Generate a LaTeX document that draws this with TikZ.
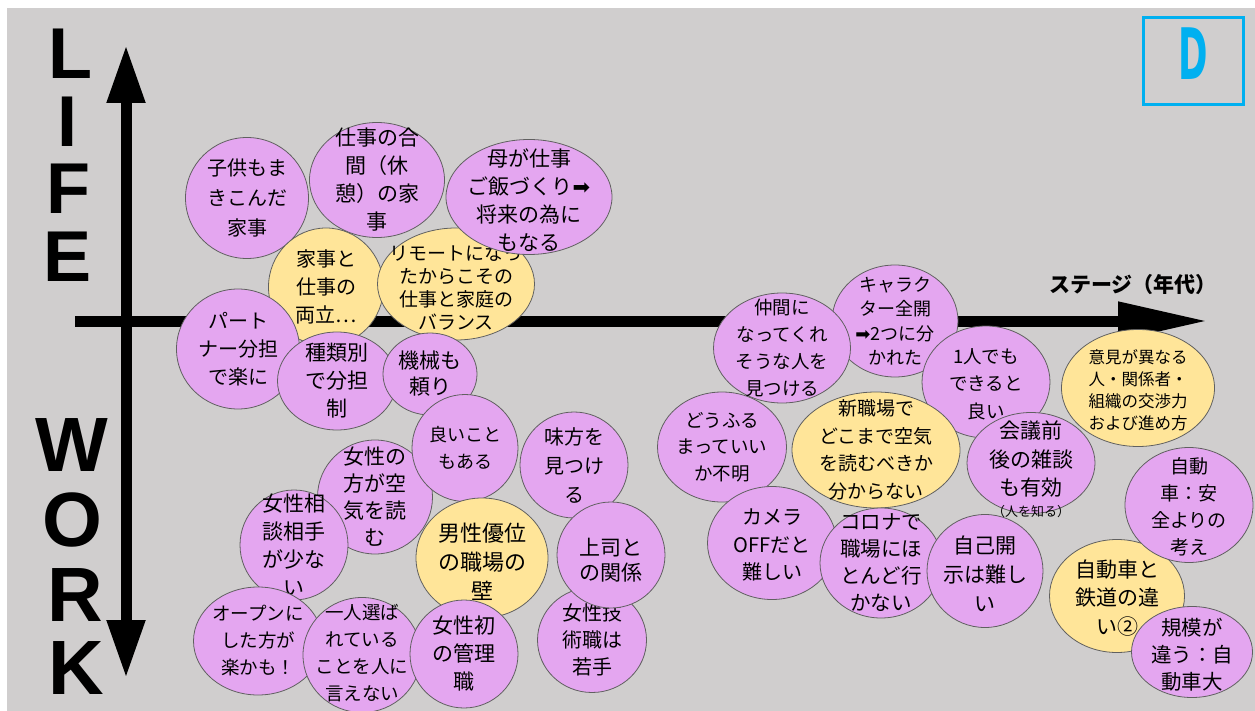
\documentclass[tikz,border=0pt]{standalone}
\usepackage{xcolor}
\usepackage{fontspec}
\setmainfont{Noto Sans CJK JP}
\newfontfamily\arrowfont{DejaVu Sans}
\newfontfamily\axisfont{Liberation Sans}
\usepackage{tikz}
\usetikzlibrary{shapes.geometric, arrows.meta}

\definecolor{bggray}{RGB}{208,206,206}
\definecolor{bubpurple}{RGB}{228,166,240}
\definecolor{bubyellow}{RGB}{255,229,153}
\definecolor{bubline}{RGB}{96,96,96}
\definecolor{dcyan}{RGB}{0,176,240}
\newcommand{\nextarrow}{{\arrowfont ➡}}

\tikzset{
    bubble/.style={ellipse, draw=bubline, line width=0.8pt, inner sep=0pt},
    purplebub/.style={bubble, fill=bubpurple},
    yellowbub/.style={bubble, fill=bubyellow},
    wh/.style 2 args={minimum width=#1pt, minimum height=#2pt},
    txt/.style 2 args={align=center, inner sep=0pt, font=\fontsize{#1}{#2}\selectfont},
    axisline/.style={line width=11pt, black},
    bigletter/.style={inner sep=0pt, font=\axisfont\bfseries\fontsize{#1}{#1}\selectfont}
}

\begin{document}
\begin{tikzpicture}[x=1pt, y=-1pt]
    \useasboundingbox (0,0) rectangle (1255,711);
    \fill[white] (0,0) rectangle (1255,711);
    \fill[bggray] (7,8) rectangle (1255,711);

    % axes
    \coordinate (origin) at (75,321);
    \coordinate (stagetip) at (1208,321);
    \coordinate (lifetip) at (126,45);
    \coordinate (worktip) at (126,678);
    \draw[axisline, -{Triangle[length=90pt, width=36pt]}] (origin) -- (stagetip);
    \draw[axisline, {Triangle[length=58pt, width=36pt]}-{Triangle[length=58pt, width=36pt]}] (worktip) -- (lifetip);
    \node[font=\fontsize{21}{21}\selectfont\bfseries] (stagelabel) at (1133,285) {ステージ（年代）};

    \node[bigletter=72] (lifeL) at (70,54) {L};
    \node[bigletter=72] (lifeI) at (68,122) {I};
    \node[bigletter=72] (lifeF) at (68,189) {F};
    \node[bigletter=72] (lifeE) at (68,257) {E};
    \node[bigletter=77] (workW) at (72,445) {W};
    \node[bigletter=77] (workO) at (72,520) {O};
    \node[bigletter=77] (workR) at (75,595) {R};
    \node[bigletter=77] (workK) at (76,668) {K};

    % group label
    \node[draw=dcyan, line width=3pt, minimum width=100pt, minimum height=87pt] (dbox) at (1193,61.5) {};
    \node[text=dcyan, inner sep=0pt, font=\arrowfont\bfseries\fontsize{71}{71}\selectfont] (dletter) at (1193,54) {\scalebox{0.5}[1]{D}};

    % life side
    \node[purplebub, wh={123}{121}, label={[txt={20}{30}]center:子供もま\\きこんだ\\家事}] (kids) at (247,198) {};
    \node[purplebub, wh={135}{115}, label={[txt={21}{28}]center:仕事の合\\間（休\\憩）の家\\事}] (breakchores) at (377,180) {};
    \node[yellowbub, wh={115}{118}, label={[txt={20}{28}]center:家事と\\仕事の\\両立…}] (juggle) at (326,287) {};
    \node[yellowbub, wh={157}{112}, label={[txt={19}{23}, yshift=-4pt]center:リモートになっ\\たからこその\\仕事と家庭の\\バランス}] (remote) at (456,284) {};
    \node[purplebub, wh={166}{115}, label={[txt={21}{28}, yshift=-3pt]center:母が仕事\\ご飯づくり\nextarrow\\将来の為に\\もなる}] (mother) at (529,197) {};
    \node[purplebub, wh={123}{120}, label={[txt={20}{28}]center:パート\\ナー分担\\で楽に}] (partner) at (238,349) {};
    \node[purplebub, wh={119}{98}, label={[txt={21}{28}]center:種類別\\で分担\\制}] (bytype) at (337,381) {};
    \node[purplebub, wh={94}{82}, label={[txt={21}{26}]center:機械も\\頼り}] (machine) at (430,374) {};

    % work side, left
    \node[purplebub, wh={115}{114}, label={[txt={21}{27}]center:女性の\\方が空\\気を読\\む}] (readair) at (375,497) {};
    \node[purplebub, wh={106}{107}, label={[txt={18}{27}]center:良いこと\\もある}] (goodside) at (465,448) {};
    \node[purplebub, wh={108}{110}, label={[txt={21}{28}]center:女性相\\談相手\\が少な\\い}] (fewadvisors) at (294,545) {};
    \node[yellowbub, wh={132}{120}, label={[txt={22}{29}, yshift=-4pt]center:男性優位\\の職場の\\壁}] (malewall) at (482,558) {};
    \node[purplebub, wh={108}{106}, label={[txt={20}{29}]center:味方を\\見つけ\\る}] (ally) at (574,465) {};
    \node[purplebub, wh={109}{105}, label={[txt={20}{27}]center:女性技\\術職は\\若手}] (younger) at (592,640) {};
    \node[purplebub, wh={108}{106}, label={[txt={21}{25}, yshift=-5pt]center:上司と\\の関係}] (boss) at (611,555) {};
    \node[purplebub, wh={129}{108}, label={[txt={18.5}{27}]center:オープンに\\した方が\\楽かも！}] (openup) at (258,641) {};
    \node[purplebub, wh={118}{115}, label={[txt={18.5}{27}, yshift=2pt]center:一人選ば\\れている\\ことを人に\\言えない}] (chosen) at (362,655) {};
    \node[purplebub, wh={108}{108}, label={[txt={21}{28}]center:女性初\\の管理\\職}] (firstmgr) at (464,654) {};

    % work side, right
    \node[purplebub, wh={126}{112}, label={[txt={18}{24.5}]center:キャラク\\ター全開\\\nextarrow 2つに分\\かれた}] (character) at (895,321) {};
    \node[purplebub, wh={137}{110}, label={[txt={18.5}{27}]center:仲間に\\なってくれ\\そうな人を\\見つける}] (companion) at (782,348) {};
    \node[purplebub, wh={128}{112}, label={[txt={18.5}{27.5}, yshift=-2pt]center:1人でも\\できると\\良い}] (alone) at (986,382) {};
    \node[purplebub, wh={129}{110}, label={[txt={18.5}{26.5}]center:どうふる\\まっていい\\か不明}] (behave) at (722,447) {};
    \node[yellowbub, wh={168}{116}, label={[txt={19}{27.5}]center:新職場で\\どこまで空気\\を読むべきか\\分からない}] (newplace) at (876,450) {};
    \node[purplebub, wh={128}{101}, label={[txt={21}{28.5}, yshift=-6pt]center:会議前\\後の雑談\\も有効\\[-8pt]{\fontsize{13}{13}\selectfont（人を知る）}}] (smalltalk) at (1031,463) {};
    \node[yellowbub, wh={153}{117}, label={[txt={16.5}{22}, yshift=-2pt]center:意見が異なる\\人・関係者・\\組織の交渉力\\および進め方}] (negotiate) at (1138,388) {};
    \node[purplebub, wh={129}{113}, label={[txt={20}{27.5}, yshift=-2pt]center:カメラ\\OFFだと\\難しい}] (cameraoff) at (772,543) {};
    \node[purplebub, wh={122}{110}, label={[txt={20.5}{27}]center:コロナで\\職場にほ\\とんど行\\かない}] (corona) at (881,563) {};
    \node[purplebub, wh={116}{113}, label={[txt={21}{29}, yshift=-3pt]center:自己開\\示は難し\\い}] (selfdisclose) at (985,571) {};
    \node[yellowbub, wh={135}{113}, label={[txt={21}{28.5}, yshift=-2pt]center:自動車と\\鉄道の違\\い②}] (carrail) at (1117,596) {};
    \node[purplebub, wh={128}{115}, label={[txt={19}{27}, yshift=-2pt]center:自動\\車：安\\全よりの\\考え}] (carsafety) at (1189,505) {};
    \node[purplebub, wh={121}{91}, label={[txt={20.5}{27}, yshift=-3pt]center:規模が\\違う：自\\動車大}] (scale) at (1192,652) {};
\end{tikzpicture}
\end{document}
